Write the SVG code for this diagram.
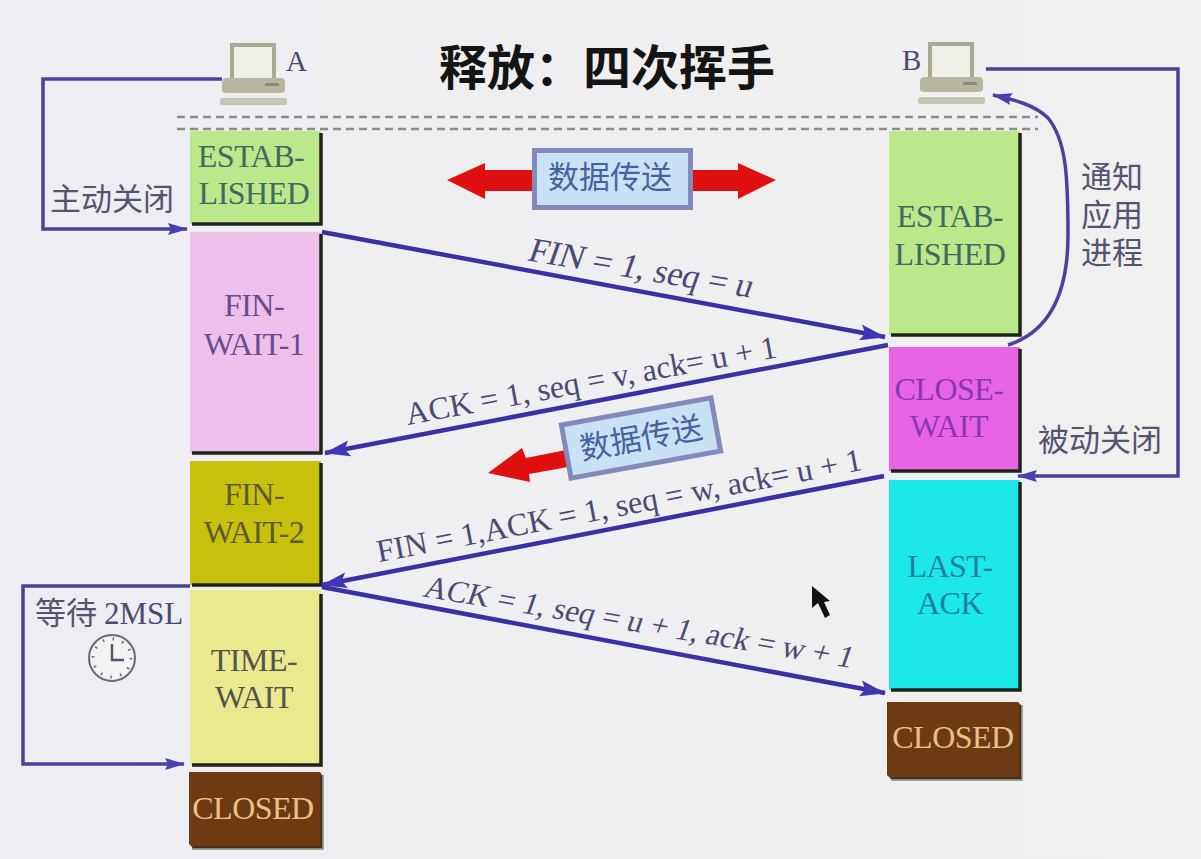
<svg xmlns="http://www.w3.org/2000/svg" width="1201" height="859" viewBox="0 0 1201 859">
<style>
text{font-family:"Liberation Serif","Noto Sans CJK SC",serif;}
.st{font-size:32px;text-anchor:middle;letter-spacing:-0.5px}
.lab{font-size:32px;fill:#4c4a72;}
.cn{font-family:"Noto Sans CJK SC","Liberation Sans",sans-serif;font-size:31px;fill:#55536e;}
.dt{font-family:"Noto Sans CJK SC","Liberation Sans",sans-serif;font-size:31px;text-anchor:middle;fill:#46639f}
.line{fill:none;stroke:#4a419f;stroke-width:3.5}
.msg{fill:none;stroke:#3a31a4;stroke-width:4.5}
.edge{fill:none;stroke:#1e2418;stroke-width:3.5}
.dash{stroke:#8b8b90;stroke-width:2.5;stroke-dasharray:8 5;fill:none}
.pc1{fill:#b7b6a0}.pc2{fill:#c6c5b4}.pc3{fill:#f0efe8;stroke:#a9a996;stroke-width:4}
.box{fill:#c9e1f5;stroke:#8289bb;stroke-width:5}
</style>
<defs>
<linearGradient id="bg" x1="0" x2="1" y1="0" y2="0"><stop offset="0" stop-color="#eeedf2"/><stop offset="1" stop-color="#f0f0ef"/></linearGradient>
<marker id="ah" markerUnits="userSpaceOnUse" markerWidth="26" markerHeight="18" refX="25" refY="9" orient="auto"><path d="M0 1L26 9L0 17L5 9Z" fill="#4036b4"/></marker>
<marker id="sm" markerUnits="userSpaceOnUse" markerWidth="20" markerHeight="14" refX="19" refY="7" orient="auto"><path d="M0 1L20 7L0 13L3 7Z" fill="#4a3fb0"/></marker>
<g id="pc">
<rect x="11" y="-16" width="42" height="36" class="pc3"/>
<path d="M1 21Q1 17 6 17H59Q64 17 64 21V29Q64 32 59 32H6Q1 32 1 29Z" class="pc1"/>
<rect x="44" y="22" width="14" height="3" fill="#8c8b78"/>
<rect x="-1" y="37" width="67" height="7" rx="2" class="pc2"/>
</g>
</defs>
<rect width="1201" height="859" fill="url(#bg)"/>
<text x="607" y="85" font-size="48" font-weight="700" text-anchor="middle" style="font-family:'Noto Sans CJK SC',sans-serif" fill="#141414">释放：四次挥手</text>
<g id="host-a"><use href="#pc" x="221" y="61"/><text x="286" y="71" class="lab" style="font-size:29px">A</text></g>
<g id="host-b"><use href="#pc" x="919" y="60"/><text x="902" y="70" class="lab" style="font-size:29px">B</text></g>
<path d="M177 117H1038M177 129H1038" class="dash"/>

<g id="a-estab"><rect x="190" y="131" width="131" height="93" fill="#bce88c"/><path d="M321 133V224H192" class="edge"/><text class="st" fill="#3f6a60"><tspan x="251" y="167">ESTAB-</tspan><tspan x="254" y="204">LISHED</tspan></text></g>
<g id="a-fin1"><rect x="190" y="232" width="131" height="221" fill="#eebfea"/><path d="M321 234V453H192" class="edge"/><text class="st" fill="#6a4a90"><tspan x="254" y="316">FIN-</tspan><tspan x="254" y="355">WAIT-1</tspan></text></g>
<g id="a-fin2"><rect x="190" y="461" width="131" height="124" fill="#c8c00c"/><path d="M321 463V585H192" class="edge"/><text class="st" fill="#5c5a30"><tspan x="254" y="505">FIN-</tspan><tspan x="254" y="543">WAIT-2</tspan></text></g>
<g id="a-time"><rect x="190" y="590" width="131" height="175" fill="#e9e98e"/><path d="M321 594V765H192" class="edge"/><text class="st" fill="#55544e"><tspan x="254" y="671">TIME-</tspan><tspan x="254" y="708">WAIT</tspan></text></g>
<g id="a-closed"><path d="M189 772H320L322 775V848H193L189 844Z" fill="#6e3a14"/><path d="M322 775V848H192" class="edge" stroke-opacity=".5"/><text x="253" y="819" class="st" fill="#e6c388">CLOSED</text></g>

<g id="b-estab"><rect x="889" y="131" width="131" height="204" fill="#bce88c"/><path d="M1020 133V335H891" class="edge"/><text class="st" fill="#3f6a60"><tspan x="950" y="227">ESTAB-</tspan><tspan x="950" y="265">LISHED</tspan></text></g>
<g id="b-close"><rect x="889" y="347" width="131" height="124" fill="#e765e5"/><path d="M1020 349V471H891" class="edge"/><text class="st" fill="#8b35b5"><tspan x="949" y="400">CLOSE-</tspan><tspan x="949" y="437">WAIT</tspan></text></g>
<g id="b-last"><rect x="889" y="480" width="131" height="210" fill="#1de8e8"/><path d="M1020 482V690H891" class="edge"/><text class="st" fill="#1f7f9f"><tspan x="950" y="577">LAST-</tspan><tspan x="950" y="614">ACK</tspan></text></g>
<g id="b-closed"><path d="M887 702H1018L1021 705V779H891L887 775Z" fill="#6e3a14"/><path d="M1021 705V779H891" class="edge" stroke-opacity=".5"/><text x="953" y="748" class="st" fill="#e6c388">CLOSED</text></g>

<g id="data-transfer-1">
<path d="M447 180L485 163V170H738V163L776 180L738 199V191H485V199Z" fill="#e01010"/>
<rect x="534.5" y="150.5" width="156" height="57" class="box"/>
<text x="610" y="188" class="dt">数据传送</text>
</g>
<g id="data-transfer-2">
<path d="M488 473L522 448L526 458L566 450L568 467L529 474L530 482Z" fill="#e01010"/>
<g transform="rotate(-10.3 641 438)">
<rect x="565" y="411" width="152" height="54" class="box"/>
<text x="641" y="449" class="dt">数据传送</text>
</g>
</g>

<g id="connectors">
<path d="M222 79H43V229H187" class="line" marker-end="url(#sm)"/>
<path d="M986 69H1178V476H1018" class="line" marker-end="url(#sm)"/>
<path d="M190 586H23V764H184" class="line" marker-end="url(#sm)"/>
<path d="M1008 345C1055 330 1068 285 1068 235C1068 175 1066 140 1048 118C1035 105 1015 100 993 95" class="line" marker-end="url(#sm)"/>
<path d="M322 232L885 337" class="msg" marker-end="url(#ah)"/>
<path d="M888 345L325 453" class="msg" marker-end="url(#ah)"/>
<path d="M884 476L322 585" class="msg" marker-end="url(#ah)"/>
<path d="M322 587L885 693" class="msg" marker-end="url(#ah)"/>
</g>

<text class="lab" style="font-size:34.5px" text-anchor="middle" transform="translate(638 279) rotate(9.5) skewX(-10)">FIN = 1, seq = u</text>
<text x="593" y="391" class="lab" text-anchor="middle" transform="rotate(-10.4 593 391)">ACK = 1, seq = v, ack= u + 1</text>
<text x="621" y="516" class="lab" text-anchor="middle" transform="rotate(-10.8 621 516)">FIN = 1,ACK = 1, seq = w, ack= u + 1</text>
<text class="lab" style="font-size:31.3px" text-anchor="middle" transform="translate(636 632) rotate(9.5) skewX(-10)">ACK = 1, seq = u + 1, ack = w + 1</text>

<text x="50" y="210" class="cn">主动关闭</text>
<text x="1038" y="451" class="cn">被动关闭</text>
<g id="notify-label" class="cn"><text x="1081" y="188" class="cn">通知</text><text x="1081" y="226" class="cn">应用</text><text x="1081" y="264" class="cn">进程</text></g>
<text x="35" y="624" class="cn">等待 <tspan class="lab" style="font-family:'Liberation Serif',serif;font-size:31px">2MSL</tspan></text>
<g id="clock" fill="none" stroke="#6a6a74"><circle cx="112" cy="658" r="23" fill="#f3f3f3" stroke-width="2"/><path d="M112 644V660H124" stroke-width="2.5" stroke="#55536e"/><circle cx="112" cy="658" r="19" stroke-dasharray="1.5 8.45" stroke-width="3"/></g>
<path id="cursor" d="M812 586V608L818 603L825 618L830 615L824 602L830 601Z" fill="#111"/>
</svg>
